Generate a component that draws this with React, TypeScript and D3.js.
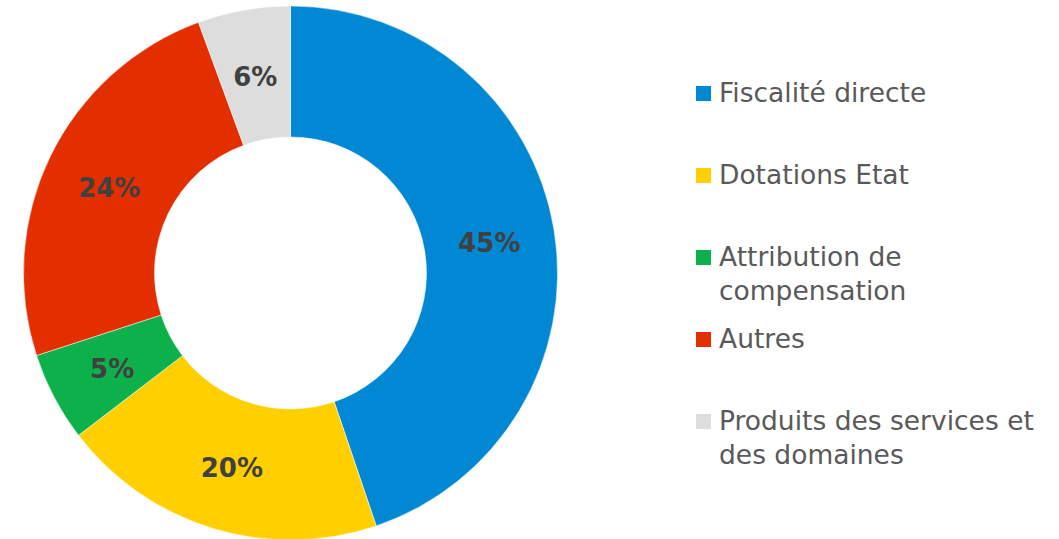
import { useRef, useEffect } from "react";
import * as d3 from "d3";

const CATEGORIES = [
  "Fiscalité directe",
  "Dotations Etat",
  "Attribution de compensation",
  "Autres",
  "Produits des services et des domaines",
];
const LEGEND_LINES = [
  ["Fiscalité directe"],
  ["Dotations Etat"],
  ["Attribution de", "compensation"],
  ["Autres"],
  ["Produits des services et", "des domaines"],
];
const VALUES = [44.8, 19.8, 5.4, 24.4, 5.6];
const COLORS = ["#0088d4", "#ffcf00", "#0db14b", "#e32e00", "#dddddd"];

const W = 1059;
const H = 539;

export default function App() {
  const svgRef = useRef<SVGSVGElement>(null);

  useEffect(() => {
    if (!svgRef.current) return;
    const svg = d3.select(svgRef.current);
    svg.selectAll("*").remove();

    const data = CATEGORIES.map((c, i) => ({ name: c, value: VALUES[i] }));
    const total = d3.sum(data, (d) => d.value);

    const cx = 290.5;
    const cy = 273;
    const outer = 267;
    const inner = 136;

    const color = d3.scaleOrdinal<string>().domain(CATEGORIES).range(COLORS);

    const pie = d3.pie<(typeof data)[number]>().value((d) => d.value).sort(null);
    const arc = d3.arc<d3.PieArcDatum<(typeof data)[number]>>()
      .innerRadius(inner)
      .outerRadius(outer);

    const g = svg.append("g").attr("transform", `translate(${cx},${cy})`);

    g.selectAll(".slice")
      .data(pie(data))
      .join("path")
      .attr("class", "slice")
      .attr("d", arc)
      .attr("fill", (d) => color(d.data.name))
      .attr("stroke", "#fff")
      .attr("stroke-width", 0.5);

    g.selectAll(".pct")
      .data(pie(data))
      .join("text")
      .attr("class", "pct")
      .attr("transform", (d) => `translate(${arc.centroid(d)})`)
      .attr("text-anchor", "middle")
      .attr("dy", "0.45em")
      .style("font-family", '"DejaVu Sans", sans-serif')
      .style("font-weight", "700")
      .style("font-size", "26px")
      .style("fill", "#404040")
      .text((d) => `${Math.round((d.data.value / total) * 100)}%`);

    // legend
    const y = d3.scalePoint<string>().domain(CATEGORIES).range([92, 420]);
    const lg = svg.append("g");
    const items = lg.selectAll(".item")
      .data(CATEGORIES)
      .join("g")
      .attr("class", "item")
      .attr("transform", (d) => `translate(696,${y(d)})`);

    items.append("rect")
      .attr("x", 0)
      .attr("y", -6)
      .attr("width", 15)
      .attr("height", 15)
      .attr("fill", (d) => color(d));

    items.append("text")
      .attr("x", 23)
      .style("font-family", '"DejaVu Sans", sans-serif')
      .style("font-size", "26.5px")
      .style("fill", "#595959")
      .selectAll("tspan")
      .data((d, i) => LEGEND_LINES[i])
      .join("tspan")
      .attr("x", 23)
      .attr("y", (_, j) => 10 + j * 34)
      .text((t) => t);
  }, []);

  return (
    <svg
      ref={svgRef}
      width={W}
      height={H}
      style={{ position: "absolute", left: 0, top: 0, background: "#fff" }}
    />
  );
}
